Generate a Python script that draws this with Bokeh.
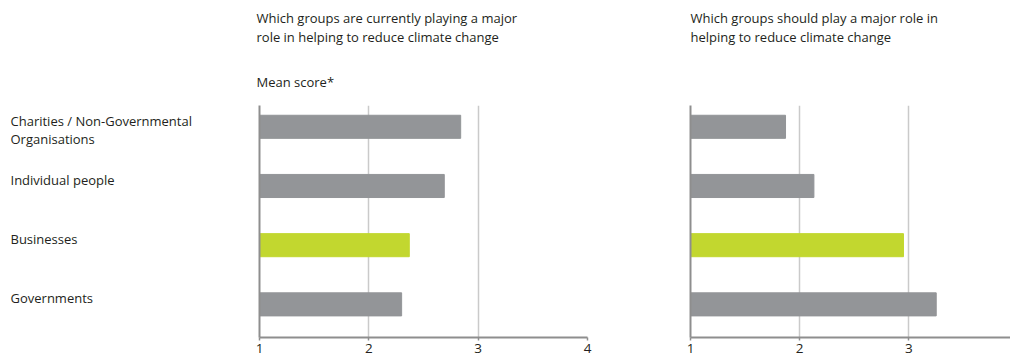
from bokeh.plotting import figure
from bokeh.models import ColumnDataSource, Range1d, FixedTicker
from bokeh.layouts import row, column
from bokeh.core.properties import value
from bokeh.embed import file_html
from bokeh.resources import INLINE

# ---- data ----
categories = ["Charities / Non-Governmental\nOrganisations", "Individual people", "Businesses", "Governments"]
current_role = [2.84, 2.69, 2.37, 2.30]
should_role = [1.87, 2.13, 2.95, 3.25]
x_ticks = [1, 2, 3, 4]
highlight = "Businesses"
title_left = "Which groups are currently playing a major\nrole in helping to reduce climate change"
title_right = "Which groups should play a major role in\nhelping to reduce climate change"
subtitle = "Mean score*"

# ---- style / layout ----
FONT = "Open Sans"
TXT = "#231f20"
GREY = "#939598"
GREEN = "#c2d72f"
AXIS = "#8e8e8e"
GRID = "#cacaca"
W = 1010
HEAD = 105          # height of the heading strip
BODY = 252          # height of the chart row
BOTTOM = 20
LAB_W = 249
LEFT_FRAME = 259    # x of the left chart's frame
RIGHT_FRAME = 690   # x of the right chart's frame
BASE = x_ticks[0]
n = len(categories)
ypos = [n - 1 - i for i in range(n)]
Y0, Y1 = -0.56, n - 1 + 0.36
colors = [GREEN if c == highlight else GREY for c in categories]


def blank(fig):
    fig.outline_line_color = None
    fig.xgrid.visible = False
    fig.ygrid.visible = False
    fig.background_fill_color = "white"
    fig.border_fill_color = "white"


# heading strip (screen-like coordinates: y grows downward)
head = figure(width=W, height=HEAD, x_range=Range1d(0, W), y_range=Range1d(HEAD, 0),
              output_backend="svg", toolbar_location=None, title=None,
              x_axis_type=None, y_axis_type=None,
              min_border_left=0, min_border_right=0, min_border_top=0, min_border_bottom=0)
blank(head)
head_src = ColumnDataSource(dict(
    x=[LEFT_FRAME - 3, RIGHT_FRAME, LEFT_FRAME - 3],
    y=[8.5, 8.5, 72.5],
    t=[title_left, title_right, subtitle],
))
head.text(x="x", y="y", text="t", source=head_src,
          text_font=value(FONT), text_font_size=value("13px"), text_color=TXT,
          text_baseline="top", text_align="left", text_line_height=1.05)


def make_panel(values, width, border_left, border_right, x_end):
    src = ColumnDataSource(dict(y=ypos, v=values, c=colors))
    p = figure(width=width, height=BODY, x_range=Range1d(BASE, x_end), y_range=Range1d(Y0, Y1),
               output_backend="svg", toolbar_location=None, title=None,
               min_border_left=border_left, min_border_right=border_right,
               min_border_top=0, min_border_bottom=BOTTOM)
    p.outline_line_color = None
    p.background_fill_color = "white"
    p.border_fill_color = "white"
    p.hbar(y="y", left=BASE, right="v", height=0.39, color="c", source=src)

    p.xaxis.ticker = FixedTicker(ticks=x_ticks)
    p.xgrid.ticker = FixedTicker(ticks=x_ticks)
    p.xgrid.grid_line_color = GRID
    p.xgrid.grid_line_width = 1.5
    p.ygrid.visible = False
    p.xaxis.axis_line_color = AXIS
    p.xaxis.axis_line_width = 2
    p.xaxis.major_tick_line_color = AXIS
    p.xaxis.major_tick_line_width = 1.5
    p.xaxis.major_tick_out = 3
    p.xaxis.major_tick_in = 0
    p.xaxis.minor_tick_line_color = None
    p.xaxis.major_label_standoff = 3
    p.xaxis.major_label_text_font = FONT
    p.xaxis.major_label_text_font_size = "13.5px"
    p.xaxis.major_label_text_color = TXT

    p.yaxis.ticker = FixedTicker(ticks=[])
    p.yaxis.axis_line_color = AXIS
    p.yaxis.axis_line_width = 2
    p.yaxis.major_tick_line_color = None
    p.yaxis.minor_tick_line_color = None
    p.yaxis.major_tick_out = 0
    p.yaxis.major_label_standoff = 0
    p.yaxis.major_label_text_font_size = "0px"
    return p


# category label column, sharing the charts' vertical scale
lab = figure(width=LAB_W, height=BODY, x_range=Range1d(-10, LAB_W - 10), y_range=Range1d(Y0, Y1),
             output_backend="svg", toolbar_location=None, title=None,
             x_axis_type=None, y_axis_type=None,
             min_border_left=0, min_border_right=0, min_border_top=0, min_border_bottom=BOTTOM)
blank(lab)
lab.text(x=0, y="y", text="label", source=ColumnDataSource(dict(y=ypos, label=categories)),
         text_font=value(FONT), text_font_size=value("13px"), text_color=TXT,
         text_baseline="top", text_align="left", text_line_height=1.0, y_offset=-15)

p1_width = (LEFT_FRAME - LAB_W) + 328 + 13
p1 = make_panel(current_role, p1_width, LEFT_FRAME - LAB_W, 13, 4)
p2_width = W - LAB_W - p1_width
p2 = make_panel(should_role, p2_width, RIGHT_FRAME - LAB_W - p1_width, 0, 3.93)
layout = column(head, row(lab, p1, p2))

open("out.html", "w").write(file_html(layout, INLINE))
